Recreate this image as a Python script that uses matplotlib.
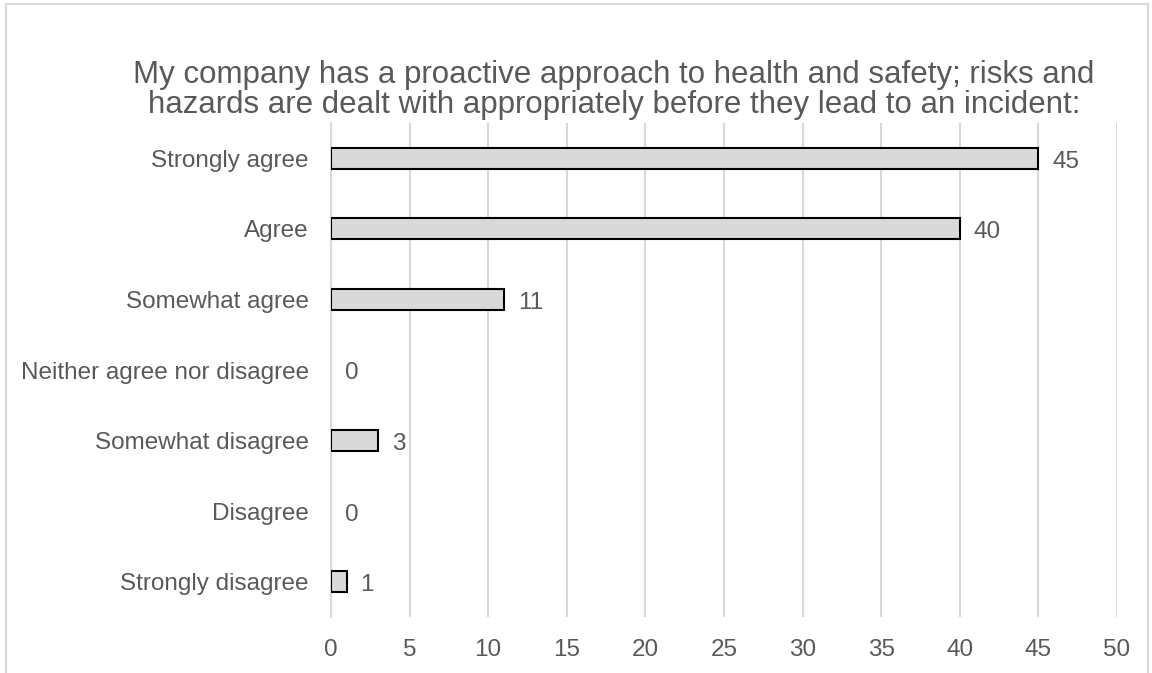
"""Gráfico de barras horizontais: abordagem proativa de saúde e segurança."""

import matplotlib
matplotlib.use("Agg")
import matplotlib.pyplot as plt
from matplotlib.patches import Rectangle

categorias = [
    "Strongly disagree",
    "Disagree",
    "Somewhat disagree",
    "Neither agree nor disagree",
    "Somewhat agree",
    "Agree",
    "Strongly agree",
]
valores = [1, 0, 3, 0, 11, 40, 45]
ticks_x = [0, 5, 10, 15, 20, 25, 30, 35, 40, 45, 50]
titulo = ("My company has a proactive approach to health and safety; risks and\n"
          "hazards are dealt with appropriately before they lead to an incident:")

plt.rcParams["font.family"] = ["Liberation Sans", "DejaVu Sans"]
cinza_texto = "#595959"
cinza_grade = "#d9d9d9"

fig = plt.figure(figsize=(11.52, 6.73), dpi=100)
ax = fig.add_axes([0.2873, 0.0832, 0.6823, 0.734])

# borda do gráfico
fig.patches.append(Rectangle((6 / 1152, -0.1), 1142 / 1152, 1.1 - 4 / 673,
                             transform=fig.transFigure, fill=False,
                             edgecolor=cinza_grade, linewidth=1.5))

pos = list(range(len(categorias)))
larguras = [1.5 if v > 0 else 0 for v in valores]
ax.barh(pos, valores, height=0.3, color="#d9d9d9", edgecolor="black",
        linewidth=larguras, zorder=3)
for y, v in zip(pos, valores):
    ax.annotate(str(v), (v, y), xytext=(10, -2.5), textcoords="offset points",
                ha="left", va="center", fontsize=17.5, color=cinza_texto)

ax.set_xlim(0, 50)
ax.set_ylim(-0.5, len(categorias) - 0.5)
ax.set_xticks(ticks_x)
ax.set_yticks(pos)
ax.set_yticklabels(categorias)
ax.tick_params(axis="both", length=0, labelsize=17.5, labelcolor=cinza_texto)
ax.tick_params(axis="y", pad=16)
ax.tick_params(axis="x", pad=16)
ax.grid(axis="x", color=cinza_grade, linewidth=1.5, zorder=0)

for lado in ["top", "right", "bottom"]:
    ax.spines[lado].set_visible(False)
ax.spines["left"].set_color(cinza_grade)
ax.spines["left"].set_linewidth(1.5)

fig.text(0.533, 1 - 90.5 / 673, titulo, ha="center", va="center",
         fontsize=22.5, color=cinza_texto, linespacing=1.0)

fig.savefig("out.png", dpi=100)
plt.close(fig)
